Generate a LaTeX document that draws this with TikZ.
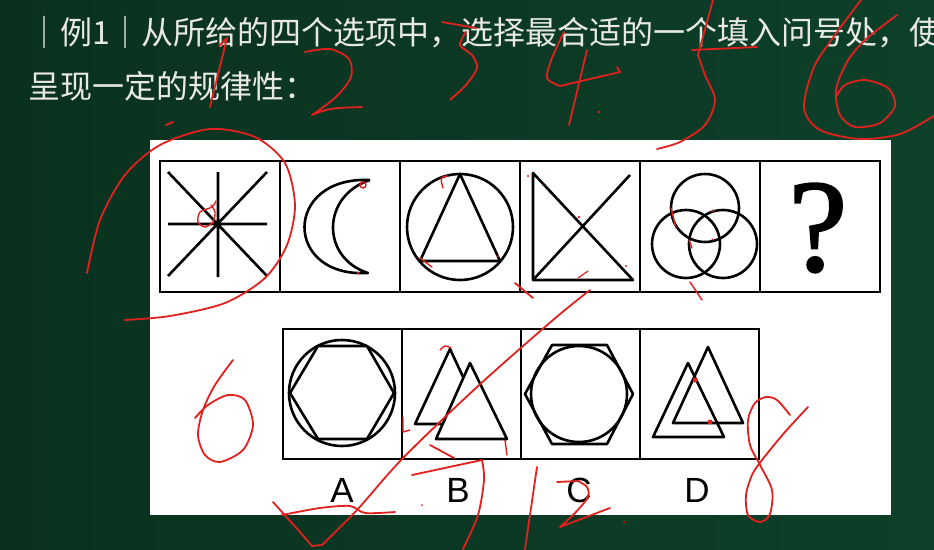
\documentclass[tikz,border=0pt]{standalone}
\usepackage{fontspec}
\setmainfont{Liberation Sans}
\newfontfamily\cjkfont{Noto Sans CJK SC}
\newfontfamily\qfont[FakeBold=1.6]{Liberation Serif}
\usetikzlibrary{calc}

\definecolor{boardL}{RGB}{10,49,31}
\definecolor{boardR}{RGB}{13,64,41}
\definecolor{chalk}{RGB}{232,232,228}
\definecolor{ink}{RGB}{226,32,30}

\tikzset{
    figline/.style={line width=2.6pt, line join=round},
    cell/.style={line width=2.4pt},
    redink/.style={draw=ink, line width=1.8pt, line cap=round, line join=round},
    title/.style={anchor=base west, inner sep=0pt, text=chalk,
        font=\cjkfont\fontsize{32}{38}\selectfont},
}

\begin{document}
\begin{tikzpicture}[x=1pt,y=-1pt]
    \useasboundingbox (0,0) rectangle (934,549);
    \clip (0,0) rectangle (934,549);
    \shade[left color=boardL, right color=boardR] (0,0) rectangle (934,549);
    \fill[white] (150,140) rectangle (891,515);

    \node[title] (line1) at (28,44) {｜例1｜从所给的四个选项中，选择最合适的一个填入问号处，使};
    \node[title] (line2) at (28,98) {呈现一定的规律性：};

    % question row
    \foreach \i in {0,...,5}
      \draw[cell] ({160+120*\i},161) rectangle ++(120,131);

    \coordinate (star) at (218,224);
    \draw[figline] (168,224) -- (267,224) (218,172) -- (218,277)
                   (168,172) -- (267,276) (267,172) -- (168,276);

    \draw[figline] (370,180) .. controls (283,176) and (283,278) .. (368,273)
                   .. controls (321,258) and (321,196) .. (370,180);

    \draw[figline] (460,227) circle (53pt);
    \draw[figline] (460,174) -- (420,261) -- (500,261) -- cycle;

    \draw[figline] (533,173) -- (533,280) -- (633,280) -- cycle;
    \draw[figline] (533,280) -- (630,175);

    \foreach \c in {(705,208),(686,244),(723,244)}
      \draw[figline] \c circle (34pt);

    \node[font=\qfont\fontsize{132}{132}\selectfont, inner sep=0pt] (qmark) at (818,228) {?};

    % options
    \foreach \x in {283,402,521,640}
      \draw[cell] (\x,329) rectangle ++(119,130);

    \draw[figline] (342,393) circle (53pt);
    \draw[figline] (290,393) -- (318,346) -- (367,346) -- (394,393)
                   -- (367,439) -- (318,439) -- cycle;

    \draw[figline] (450,349) -- (415,424) -- (485,424) -- cycle;
    \filldraw[figline, fill=white] (470,363) -- (436,439) -- (507,439) -- cycle;

    \draw[figline] (525,394) -- (552,345) -- (607,345) -- (633,394)
                   -- (607,444) -- (552,444) -- cycle;
    \draw[figline] (579,394) circle (48pt);

    \draw[figline] (708,347) -- (673,423) -- (743,423) -- cycle;
    \draw[figline] (688,363) -- (653,437) -- (724,437) -- cycle;

    \foreach \l/\x in {A/342,B/458,C/579,D/697}
      \node[font=\fontsize{35}{35}\selectfont, inner sep=0pt] (opt\l) at (\x,490) {\l};

    % red handwriting
    \draw[redink] (219,46) -- (227,38) -- (210,107);
    \draw[redink] plot[smooth] coordinates {(305,52) (330,49) (349,59) (351,77) (336,97) (312,115)}
                  .. controls (330,108) .. (362,107);
    \draw[redink] (442,22) -- (476,28);
    \draw[redink] plot[smooth] coordinates {(466,32) (460,45) (472,55) (477,68) (466,85) (450,100)};
    \draw[redink] plot[smooth] coordinates {(564,32) (552,58) (547,78) (560,86)} -- (620,72) -- (617,67);
    \draw[redink] (587,50) -- (569,125);
    \fill[ink] (599,112) circle (1.3pt);
    \draw[redink] (713,0) -- (698,55);
    \draw[redink] (692,50) -- (757,47);
    \draw[redink] plot[smooth] coordinates {(698,55) (705,75) (715,100) (705,125) (680,142) (657,149)};
    \draw[redink] plot[smooth] coordinates {(861,0) (835,35) (814,67) (804,108) (820,130) (860,139) (900,134) (934,116)};
    \draw[redink] plot[smooth] coordinates {(897,15) (865,40) (847,62) (836,90) (840,115) (855,127)
                                             (880,123) (895,106) (888,88) (865,80) (845,85) (836,97)};

    \draw[redink] plot[smooth] coordinates {(87,273) (100,220) (125,175) (160,145) (210,129) (255,137)
                                             (285,163) (295,205) (287,245) (265,278) (225,303) (170,316) (125,320)};
    \draw[redink] (166,125) -- (173,122);
    \draw[redink, line width=1.4pt] plot[smooth] coordinates {(216,201) (212,207) (200,212) (198,222)
                                                               (205,227) (213,222) (215,212) (211,205)};
    \draw[redink, line width=1.4pt] (363,185) circle (3pt);
    \fill[ink] (358,273) circle (1.5pt);
    \draw[redink, line width=1.4pt] (448,176) .. controls (440,177) .. (443,188);
    \draw[redink, line width=1.4pt] (420,258) -- (432,267);
    \fill[ink] (498,256) circle (1.2pt) (528,176) circle (1.2pt) (579,217) circle (1.3pt) (626,266) circle (1.2pt);
    \draw[redink, line width=1.2pt] (578,278) -- (588,271);
    \draw[redink, line width=1.4pt] (671,208) -- (676,228) (689,240) -- (692,248)
                                    (713,210) -- (714,212) (712,239) -- (713,240) (690,282) -- (702,300);
    \draw[redink] (515,283) -- (533,298);

    \draw[redink] plot[smooth] coordinates {(233,360) (215,385) (203,410) (198,435) (205,455) (220,462)
                                             (243,450) (253,425) (245,400) (228,395) (208,405) (195,418)};
    \draw[redink] (273,502) -- (300,532) -- (312,546) -- (322,545)
                  plot[smooth] coordinates {(322,545) (357,510) (403,458) (477,387) (553,320) (590,290)};
    \draw[redink] plot[smooth] coordinates {(282,515) (320,508) (350,506) (365,513) (395,512)};
    \draw[redink] (430,445) -- (454,458);
    \draw[redink] (412,475) -- (482,460)
                  plot[smooth] coordinates {(482,460) (484,480) (478,515) (463,549)};
    \draw[redink] (537,467) -- (525,549);
    \draw[redink] (557,482) -- (578,481)
                  plot[smooth] coordinates {(578,481) (587,487) (588,497) (576,512) (560,527)} -- (610,508);
    \draw[redink] plot[smooth] coordinates {(790,415) (777,400) (766,397) (755,403) (748,420) (750,445)
                                             (760,465) (772,490) (770,514) (760,522) (748,515) (746,495)
                                             (752,475) (762,460) (785,432) (808,407)};
    \draw[redink, line width=1.4pt] (440,350) .. controls (445,345) .. (451,348);
    \draw[redink, line width=1.4pt] (403,417) -- (403,432) -- (410,430);
    \draw[redink, line width=1.4pt] (505,440) -- (507,455);
    \fill[ink] (695,380) circle (2.5pt) (710,422) circle (2.5pt) (624,522) circle (1pt) (422,505) circle (1pt);
\end{tikzpicture}
\end{document}
